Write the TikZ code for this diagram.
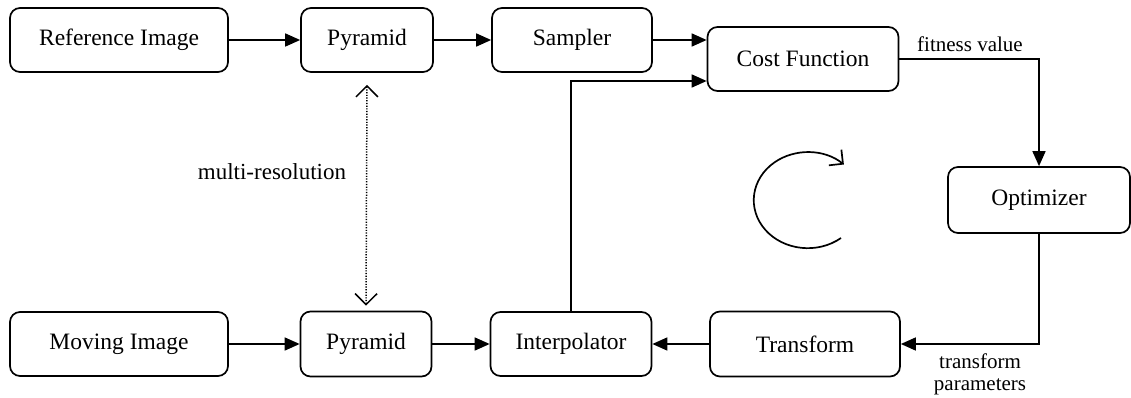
\documentclass[tikz,border=0pt]{standalone}
\usepackage{fontspec}
\setmainfont{Liberation Serif}
\usetikzlibrary{arrows.meta,calc}
\begin{document}
\begin{tikzpicture}[x=1pt,y=-1pt,
  box/.style={draw, line width=1.7pt, rounded corners=10pt, inner sep=0pt,
    font=\fontsize{23.5}{26}\selectfont},
  flow/.style={line width=1.6pt, -{Triangle[length=15pt,width=13pt]}},
  lbl/.style={font=\fontsize{21}{22}\selectfont, inner sep=0pt, align=center},
  vhead/.tip={Straight Barb[length=11pt,width=22pt,line width=1.5pt]},
  barb/.style={line width=1.5pt, dash pattern=on 1.2pt off 1.5pt, {vhead}-{vhead}}
]
\useasboundingbox (0,0) rectangle (1131,398);
\node[box, minimum width=218pt, minimum height=64pt] (ref) at (119,40) {Reference Image};
\node[box, minimum width=132pt, minimum height=64pt] (pyr1) at (367,40) {Pyramid};
\node[box, minimum width=160pt, minimum height=64pt] (samp) at (572,40) {Sampler};
\node[box, minimum width=191pt, minimum height=64pt] (cost) at (803,59) {Cost Function};
\node[box, minimum width=182pt, minimum height=66pt] (opt) at (1039,200) {Optimizer};
\node[box, minimum width=190pt, minimum height=65pt] (trans) at (805,344) {Transform};
\node[box, minimum width=161pt, minimum height=64pt] (interp) at (571,344) {Interpolator};
\node[box, minimum width=131pt, minimum height=65pt] (pyr2) at (366,344) {Pyramid};
\node[box, minimum width=218pt, minimum height=64pt] (mov) at (119,344) {Moving Image};

\draw[flow] (ref) -- (pyr1);
\draw[flow] (pyr1) -- (samp);
\draw[flow] (samp.east) -- (samp.east -| cost.west);
\coordinate (cin) at ($(cost.west)+(0,22)$);
\draw[flow] (interp.north) |- (cin);
\draw[flow] (cost.east) -| (opt.north);
\draw[flow] (opt.south) |- (trans.east);
\draw[flow] (trans) -- (interp);
\draw[flow] (mov) -- (pyr2);
\draw[flow] (pyr2) -- (interp);

\coordinate (dtop) at ($(pyr1.south)+(0,12)$);
\coordinate (dbot) at ($(pyr2.north)+(0,-5)$);
\draw[barb] (dtop) -- (dbot);

\node[lbl, font=\fontsize{23}{26}\selectfont] (mr) at (272,172) {multi-resolution};
\node[lbl] (fv) at (970,44) {fitness value};
\node[lbl] (tp) at (980,374) {transform\\parameters};

\draw[line width=1.7pt, -{Straight Barb[length=10pt,width=20pt,line width=1.7pt]}]
  (841,238) arc[start angle=-52, end angle=-312, x radius=54pt, y radius=48pt];
\end{tikzpicture}
\end{document}
